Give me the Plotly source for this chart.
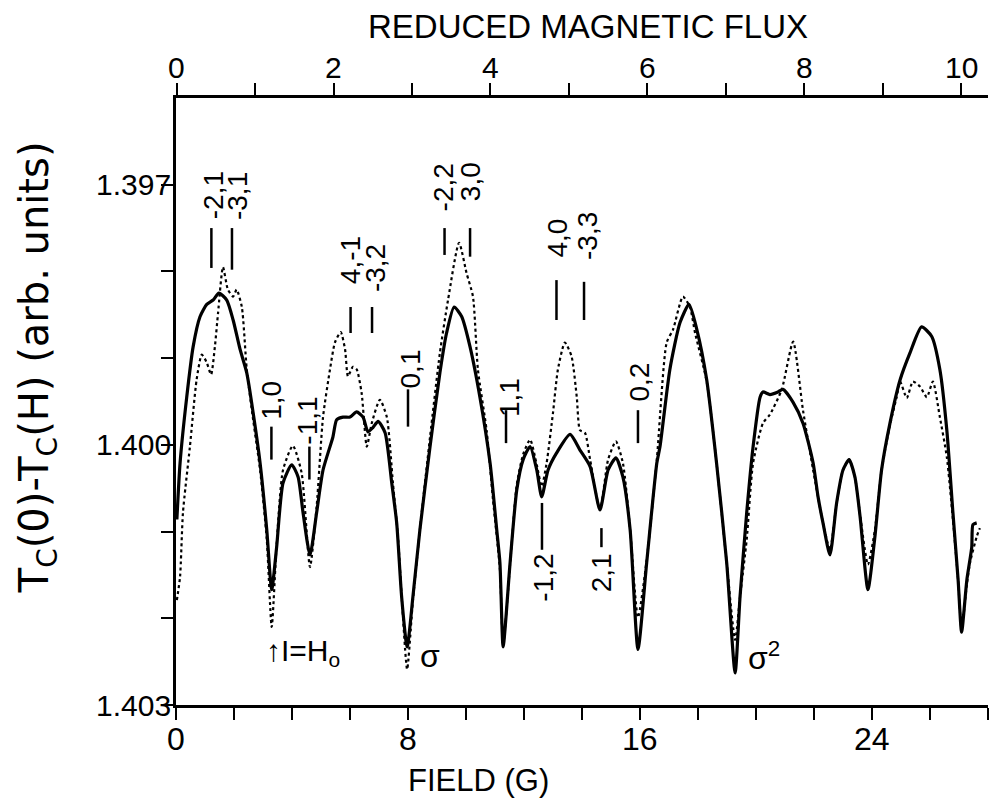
import plotly.graph_objects as go

# ---------------- data ----------------
field_solid = [0.03, 0.14, 0.37, 0.59, 0.83, 1.06, 1.28, 1.48, 1.75, 1.97, 2.21, 2.44, 2.66, 2.90,
               3.13, 3.30, 3.47, 3.69, 3.99, 4.21, 4.38, 4.62, 4.85, 5.07, 5.41, 5.54, 5.76, 6.00,
               6.23, 6.45, 6.62, 6.79, 6.97, 7.21, 7.44, 7.61, 7.78, 7.97, 8.17, 8.41, 8.76, 9.10,
               9.33, 9.59, 9.85, 10.14, 10.48, 10.83, 11.06, 11.17, 11.28, 11.52, 11.75, 11.97,
               12.21, 12.44, 12.61, 12.83, 13.13, 13.59, 13.93, 14.28, 14.62, 14.90, 15.17, 15.41,
               15.66, 15.93, 16.23, 16.58, 16.69, 17.03, 17.38, 17.69, 17.96, 18.30, 18.64, 18.99,
               19.28, 19.45, 19.68, 19.90, 20.14, 20.24, 20.48, 20.76, 20.93, 21.28, 21.62, 21.97,
               22.14, 22.31, 22.55, 22.78, 23.00, 23.21, 23.41, 23.59, 23.86, 24.10, 24.33, 24.62,
               24.97, 25.31, 25.71, 26.06, 26.34, 26.58, 26.79, 26.97, 27.09, 27.27, 27.44, 27.48,
               27.61]
tc_solid = [1.40086, 1.40021, 1.39945, 1.39887, 1.39852, 1.39838, 1.39833, 1.39825, 1.39833, 1.39856,
            1.39890, 1.39917, 1.39963, 1.40021, 1.40098, 1.40167, 1.40118, 1.40044, 1.40023, 1.40037,
            1.40078, 1.40127, 1.40078, 1.40029, 1.39991, 1.39971, 1.39968, 1.39968, 1.39962, 1.39968,
            1.39985, 1.39980, 1.39973, 1.39986, 1.40044, 1.40090, 1.40175, 1.40233, 1.40175, 1.40098,
            1.40002, 1.39917, 1.39871, 1.39841, 1.39852, 1.39887, 1.39945, 1.40021, 1.40098, 1.40136,
            1.40233, 1.40136, 1.40052, 1.40017, 1.40002, 1.40029, 1.40060, 1.40029, 1.40009, 1.39988,
            1.40006, 1.40025, 1.40075, 1.40029, 1.40015, 1.40037, 1.40098, 1.40236, 1.40136, 1.40021,
            1.40002, 1.39913, 1.39859, 1.39838, 1.39867, 1.39925, 1.40021, 1.40136, 1.40263, 1.40175,
            1.40078, 1.40002, 1.39945, 1.39939, 1.39942, 1.39939, 1.39936, 1.39951, 1.39975, 1.40021,
            1.40060, 1.40090, 1.40127, 1.40067, 1.40029, 1.40017, 1.40037, 1.40083, 1.40167, 1.40106,
            1.40029, 1.39975, 1.39925, 1.39894, 1.39864, 1.39875, 1.39913, 1.39983, 1.40078, 1.40156,
            1.40216, 1.40156, 1.40118, 1.40092, 1.40090]

field_dotted = [0.03, 0.14, 0.24, 0.48, 0.71, 0.89, 1.06, 1.21, 1.34, 1.45, 1.62, 1.79, 1.97, 2.09,
                2.27, 2.44, 2.66, 2.90, 3.13, 3.30, 3.47, 3.69, 4.03, 4.33, 4.62, 4.85, 5.07, 5.31,
                5.48, 5.68, 5.83, 5.93, 6.10, 6.23, 6.40, 6.58, 6.75, 7.03, 7.27, 7.48, 7.66, 7.79,
                7.97, 8.17, 8.41, 8.76, 9.10, 9.38, 9.76, 10.02, 10.24, 10.41, 10.71, 10.93, 11.17,
                11.28, 11.52, 11.75, 11.97, 12.21, 12.44, 12.61, 12.78, 13.00, 13.17, 13.41, 13.64,
                13.82, 13.93, 14.10, 14.28, 14.62, 14.90, 15.17, 15.41, 15.66, 15.93, 16.23, 16.58,
                16.92, 17.14, 17.48, 17.72, 17.90, 18.30, 18.64, 18.99, 19.28, 19.45, 19.68, 19.90,
                20.24, 20.48, 20.89, 21.28, 21.62, 21.97, 22.31, 22.55, 22.78, 23.00, 23.21, 23.41,
                23.59, 23.86, 24.10, 24.33, 24.62, 24.85, 24.97, 25.20, 25.41, 25.66, 25.89, 26.10,
                26.34, 26.58, 26.79, 26.97, 27.09, 27.27, 27.38, 27.61, 27.72]
tc_dotted = [1.40179, 1.40152, 1.40078, 1.40002, 1.39925, 1.39896, 1.39905, 1.39919, 1.39887, 1.39848,
             1.39795, 1.39821, 1.39829, 1.39821, 1.39841, 1.39913, 1.39971, 1.40029, 1.40109, 1.40210,
             1.40115, 1.40029, 1.40001, 1.40032, 1.40141, 1.40071, 1.39968, 1.39913, 1.39882, 1.39870,
             1.39890, 1.39921, 1.39910, 1.39913, 1.39940, 1.40002, 1.39975, 1.39948, 1.39968, 1.40044,
             1.40109, 1.40179, 1.40259, 1.40179, 1.40098, 1.39991, 1.39894, 1.39833, 1.39767, 1.39802,
             1.39829, 1.39913, 1.39983, 1.40063, 1.40144, 1.40231, 1.40138, 1.40046, 1.40011, 1.39994,
             1.40023, 1.40048, 1.40021, 1.39963, 1.39913, 1.39882, 1.39898, 1.39945, 1.39983, 1.39986,
             1.40017, 1.40075, 1.40017, 1.39996, 1.40021, 1.40098, 1.40199, 1.40133, 1.40017, 1.39882,
             1.39867, 1.39829, 1.39841, 1.39871, 1.39927, 1.40021, 1.40136, 1.40225, 1.40175, 1.40109,
             1.40021, 1.39975, 1.39965, 1.39936, 1.39881, 1.39960, 1.40029, 1.40090, 1.40121, 1.40067,
             1.40029, 1.40017, 1.40037, 1.40081, 1.40138, 1.40098, 1.40029, 1.39977, 1.39945, 1.39927,
             1.39946, 1.39927, 1.39933, 1.39945, 1.39927, 1.39968, 1.40014, 1.40086, 1.40156, 1.40213,
             1.40161, 1.40136, 1.40106, 1.40096]

# mode labels: text and field of its marker bar
mode_text = ["-2,1", "-3,1", "-2,2", "3,0", "4,-1", "-3,2", "1,0", "-1,1", "0,1", "1,1",
             "4,0", "-3,3", "0,2", "-1,2", "2,1"]
mode_field = [1.22, 1.93, 9.26, 10.14, 6.02, 6.76, 3.29, 4.60, 8.00, 11.38,
              13.12, 14.07, 15.93, 12.62, 14.67]

x_ticks = [0, 2, 4, 6, 8, 10, 12, 14, 16, 18, 20, 22, 24, 26, 28]
x_labels = [0, 8, 16, 24]
flux_ticks = [0, 1, 2, 3, 4, 5, 6, 7, 8, 9, 10]
flux_labels = [0, 2, 4, 6, 8, 10]
y_ticks = [1.397, 1.398, 1.399, 1.400, 1.401, 1.402, 1.403]
y_labels = ["1.397", "1.400", "1.403"]

# ---------------- positions / styles ----------------
bar_y = [(1.39750, 1.39796), (1.39750, 1.39798), (1.39750, 1.39781), (1.39750, 1.39783),
         (1.39841, 1.39871), (1.39841, 1.39871), (1.39979, 1.40017), (1.40002, 1.40040),
         (1.39936, 1.39979), (1.39960, 1.39998), (1.39810, 1.39856), (1.39812, 1.39856),
         (1.39960, 1.39998), (1.40067, 1.40121), (1.40096, 1.40118)]
text_pos = [(1.28, 1.39712), (2.14, 1.39713), (9.21, 1.39703), (10.14, 1.39697),
            (6.00, 1.39787), (6.90, 1.39796), (3.31, 1.39948), (4.52, 1.39972),
            (8.07, 1.39913), (11.48, 1.39945), (13.17, 1.39761), (14.21, 1.39759),
            (15.97, 1.39928), (12.66, 1.40153), (14.66, 1.40148)]

SANS = "Liberation Sans, Arial, sans-serif"
BLACK = "black"

fig = go.Figure()
fig.add_trace(go.Scatter(x=field_dotted, y=tc_dotted, mode="lines",
                         line=dict(color=BLACK, width=2.2, dash="dot", shape="spline", smoothing=0.6),
                         showlegend=False, hoverinfo="skip"))
fig.add_trace(go.Scatter(x=field_solid, y=tc_solid, mode="lines",
                         line=dict(color=BLACK, width=3.2, shape="spline", smoothing=0.6),
                         showlegend=False, hoverinfo="skip"))
# empty trace so that the top (reduced flux) axis is drawn
fig.add_trace(go.Scatter(x=[], y=[], xaxis="x2", showlegend=False, hoverinfo="skip"))

for f, (y0, y1) in zip(mode_field, bar_y):
    fig.add_shape(type="line", xref="x", yref="y", x0=f, x1=f, y0=y0, y1=y1,
                  line=dict(color=BLACK, width=2.5))

for t, (tx, ty) in zip(mode_text, text_pos):
    fig.add_annotation(x=tx, y=ty, xref="x", yref="y", text=t, textangle=-90,
                       xanchor="center", yanchor="middle",
                       showarrow=False, font=dict(family=SANS, size=28, color=BLACK))

fig.add_annotation(x=4.38, y=1.40240, xref="x", yref="y", text="↑I=H<sub>o</sub>",
                   xanchor="center", yanchor="middle",
                   showarrow=False, font=dict(family=SANS, size=30, color=BLACK))
fig.add_annotation(x=8.76, y=1.40243, xref="x", yref="y", text="σ",
                   xanchor="center", yanchor="middle",
                   showarrow=False, font=dict(family=SANS, size=32, color=BLACK))
fig.add_annotation(x=20.28, y=1.40243, xref="x", yref="y", text="σ<sup>2</sup>",
                   xanchor="center", yanchor="middle",
                   showarrow=False, font=dict(family=SANS, size=32, color=BLACK))

# tick labels
for v in x_labels:
    fig.add_annotation(x=v, y=0, xref="x", yref="paper", text=str(v), yanchor="top",
                       xanchor="center", yshift=-14, showarrow=False,
                       font=dict(family=SANS, size=32, color=BLACK))
for v in flux_labels:
    fig.add_annotation(x=v, y=1, xref="x2", yref="paper", text=str(v), yanchor="bottom",
                       xanchor="center", yshift=12, showarrow=False,
                       font=dict(family=SANS, size=30, color=BLACK))
for s in y_labels:
    fig.add_annotation(x=0, y=float(s), xref="paper", yref="y", text=s, xanchor="right",
                       yanchor="middle", xshift=-3, showarrow=False,
                       font=dict(family=SANS, size=30, color=BLACK))

# axis titles
fig.add_annotation(x=0.372, y=-0.1236, xref="paper", yref="paper", text="FIELD (G)",
                   xanchor="center", yanchor="middle",
                   showarrow=False, font=dict(family=SANS, size=31, color=BLACK))
fig.add_annotation(x=0.507, y=1.118, xref="paper", yref="paper", text="REDUCED MAGNETIC FLUX",
                   xanchor="center", yanchor="middle",
                   showarrow=False, font=dict(family=SANS, size=33, color=BLACK))
fig.add_annotation(x=-0.1715, y=0.556, xref="paper", yref="paper",
                   text="T<sub>C</sub>(0)-T<sub>C</sub>(H) (arb. units)", textangle=-90,
                   xanchor="center", yanchor="middle",
                   showarrow=False, font=dict(family="DejaVu Sans, sans-serif", size=40, color=BLACK))

axis_common = dict(ticks="outside", ticklen=12, tickwidth=2, tickcolor=BLACK, showline=True,
                   linewidth=2.5, linecolor=BLACK, showgrid=False, zeroline=False,
                   showticklabels=False)

fig.update_layout(
    width=992, height=801,
    margin=dict(l=176, r=4, t=98, b=96),
    paper_bgcolor="white", plot_bgcolor="white",
    xaxis=dict(range=[0, 28.0], tickvals=x_ticks, **axis_common),
    xaxis2=dict(range=[-0.0064, 10.338], overlaying="x", side="top", tickvals=flux_ticks,
                **axis_common),
    yaxis=dict(range=[1.403, 1.396], tickvals=y_ticks, **axis_common),
)

fig.write_html("out.html", post_script="document.body.style.margin='0';",
               config={"displayModeBar": False})
